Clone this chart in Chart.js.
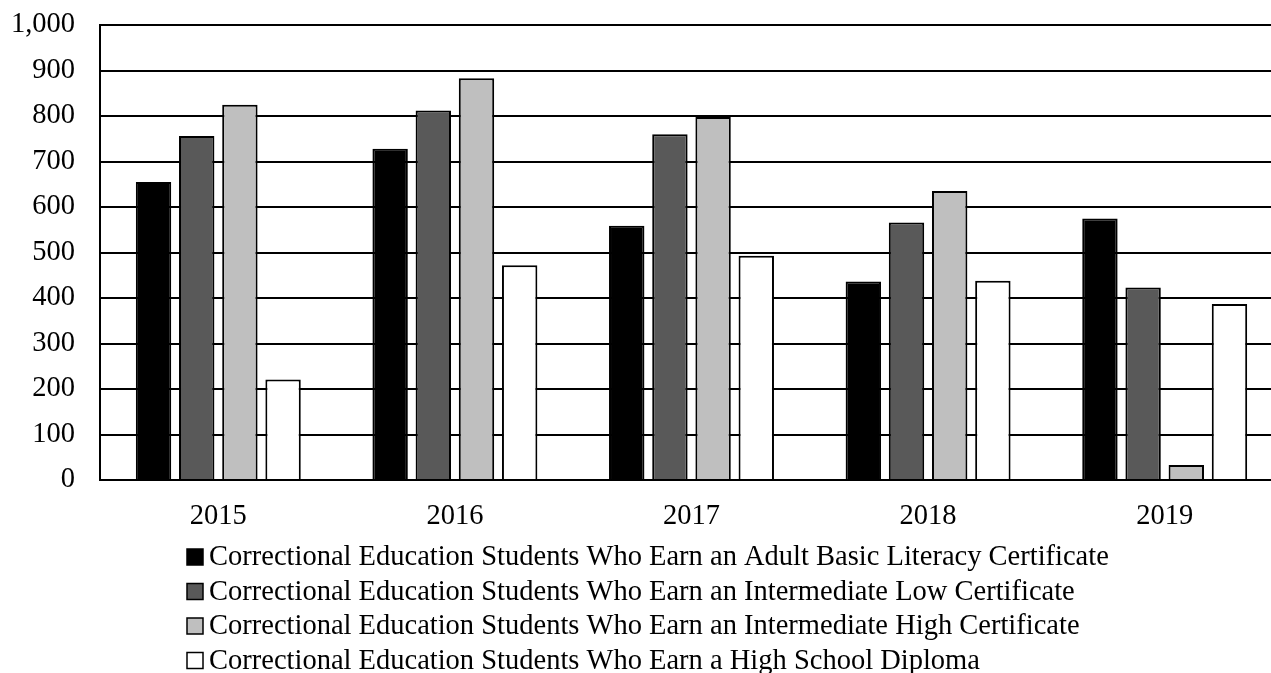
<!DOCTYPE html>
<html>
<head>
<meta charset="utf-8">
<title>Correctional Education Certificates</title>
<script src="https://cdn.jsdelivr.net/npm/chart.js@4/dist/chart.umd.min.js"></script>
<style>
  html, body { margin: 0; padding: 0; background: #fff; overflow: hidden; }
  /* plot runs a little past the right edge of the window */
  #wrap { position: relative; width: 1290px; height: 673px; }
</style>
</head>
<body>
<div id="wrap"><canvas id="chart"></canvas></div>
<script>
/* -----------------------
   Dados
   ----------------------- */
const years = ['2015', '2016', '2017', '2018', '2019'];
const seriesNames = [
  'Correctional Education Students Who Earn an Adult Basic Literacy Certificate',
  'Correctional Education Students Who Earn an Intermediate Low Certificate',
  'Correctional Education Students Who Earn an Intermediate High Certificate',
  'Correctional Education Students Who Earn a High School Diploma'
];
const adultBasicLiteracy = [655, 728, 559, 436, 575];
const intermediateLow    = [756, 812, 760, 566, 423];
const intermediateHigh   = [825, 883, 798, 635, 33];
const highSchoolDiploma  = [221, 472, 493, 438, 387];
const yTicks = [0, 100, 200, 300, 400, 500, 600, 700, 800, 900, 1000];

const FONT = { family: "'Liberation Serif', 'Times New Roman', serif", size: 28.5 };
const fills = ['#000000', '#595959', '#bfbfbf', '#ffffff'];

/* -----------------------
   Legenda em coluna, alinhada a esquerda
   ----------------------- */
const columnLegend = {
  id: 'columnLegend',
  afterDraw(chart, args, opts) {
    const ctx = chart.ctx;
    ctx.save();
    ctx.font = `${FONT.size}px ${FONT.family}`;
    ctx.textAlign = 'left';
    ctx.textBaseline = 'middle';
    chart.data.datasets.forEach((ds, i) => {
      const y = opts.top + i * opts.rowGap;
      ctx.fillStyle = ds.backgroundColor;
      ctx.fillRect(opts.left, y - opts.box / 2, opts.box, opts.box);
      ctx.lineWidth = 1.5;
      ctx.strokeStyle = '#000';
      ctx.strokeRect(opts.left, y - opts.box / 2, opts.box, opts.box);
      ctx.fillStyle = '#000';
      ctx.fillText(ds.label, opts.left + opts.box + 6, y + 1);
    });
    ctx.restore();
  }
};

const values = [adultBasicLiteracy, intermediateLow, intermediateHigh, highSchoolDiploma];

new Chart(document.getElementById('chart'), {
  type: 'bar',
  data: {
    labels: years,
    datasets: values.map((v, i) => ({
      label: seriesNames[i],
      data: v,
      backgroundColor: fills[i],
      borderColor: '#000',
      borderWidth: 2,
      barPercentage: 0.82,
      categoryPercentage: 0.73
    }))
  },
  plugins: [columnLegend],
  options: {
    responsive: true,
    maintainAspectRatio: false,
    animation: false,
    layout: { padding: { top: 25, right: 7, bottom: 133, left: 0 } },
    plugins: {
      legend: { display: false },
      tooltip: { enabled: false },
      columnLegend: { left: 187, top: 557, rowGap: 34.5, box: 16 }
    },
    scales: {
      x: {
        grid: { display: false },
        border: { display: true, color: '#000', width: 2 },
        ticks: { color: '#000', font: FONT, padding: 11, maxRotation: 0 },
        afterFit(scale) { scale.height = 60; }
      },
      y: {
        min: 0,
        max: 1000,
        afterBuildTicks(scale) { scale.ticks = yTicks.map(v => ({ value: v })); },
        grid: { color: '#000', lineWidth: 2, drawTicks: false },
        border: { display: true, color: '#000', width: 2 },
        ticks: {
          color: '#000',
          font: FONT,
          padding: 25,
          callback: v => v.toLocaleString('en-US')
        },
        afterFit(scale) {
          scale.width = 100;
          scale.paddingTop = 0;
          scale.paddingBottom = 0;
        }
      }
    }
  }
});
</script>
</body>
</html>
